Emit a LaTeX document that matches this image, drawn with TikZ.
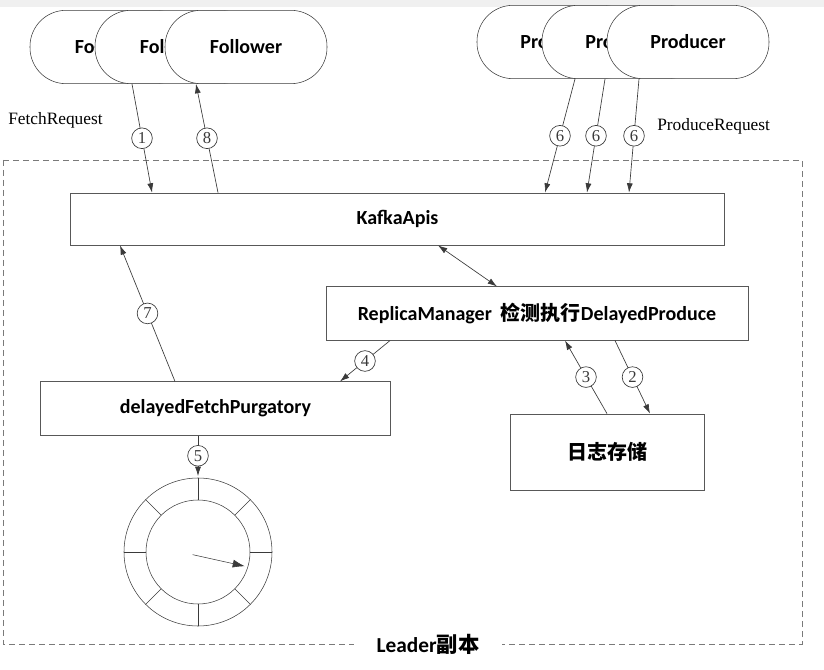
\documentclass[tikz,border=0pt]{standalone}
\usepackage{fontspec}
\setmainfont{Carlito}
\newfontfamily\cjk{Noto Sans CJK SC}
\newfontfamily\simfont{Liberation Serif}
\usetikzlibrary{arrows.meta}
\definecolor{lineg}{HTML}{3A3A3A}
\definecolor{dashg}{HTML}{7A7A7A}

\begin{document}
\begin{tikzpicture}[x=0.75pt,y=-0.75pt,font=\fontsize{15}{18}\selectfont\bfseries,
 actor/.style={draw=lineg,fill=white,rounded corners=27pt,minimum width=121.5pt,minimum height=55pt},
 box/.style={draw=lineg!85,fill=white,line width=0.6pt},
 num/.style={circle,draw=lineg,fill=white,inner sep=0pt,minimum size=15.5pt,font=\simfont\fontsize{12.5}{12.5}\selectfont},
 req/.style={font=\simfont\fontsize{13}{15}\selectfont,anchor=west,inner sep=0pt},
 arr/.style={-{Latex[length=7pt,width=4.5pt]},lineg,line width=0.5pt},
 darr/.style={{Latex[length=7pt,width=4.5pt]}-{Latex[length=7pt,width=4.5pt]},lineg,line width=0.5pt}]
\useasboundingbox (0,0) rectangle (824,670);
\fill[gray!12] (0,0) rectangle (824,7);
% leader frame
\draw[dashg,line width=0.6pt,dash pattern=on 4.5pt off 3pt] (3,160) rectangle (802,644);
\node[fill=white,inner xsep=17pt,inner ysep=2pt,font=\fontsize{16}{18}\selectfont\bfseries] (leader) at (428,644) {Leader{\cjk 副本}};
% clients
\node[actor] (f1) at (111,47) {Follower};
\node[actor] (f2) at (176,47) {Follower};
\node[actor] (f3) at (246,47) {Follower};
\node[actor] (p1) at (558,42) {Producer};
\node[actor] (p2) at (623,42) {Producer};
\node[actor] (p3) at (688,42) {Producer};
\node[req] (fetch) at (8,120) {FetchRequest};
\node[req] (prodreq) at (657,126) {ProduceRequest};
% boxes
\node[box,minimum width=491pt,minimum height=39pt] (api) at (397.5,219) {KafkaApis};
\node[box,minimum width=316.5pt,minimum height=40pt] (rm) at (537,313.5) {ReplicaManager\ \ {\cjk 检测执行}DelayedProduce};
\node[box,minimum width=263pt,minimum height=40pt] (pur) at (215.5,408.5) {delayedFetchPurgatory};
\node[box,minimum width=146pt,minimum height=57pt] (log) at (607.5,452) {\cjk 日志存储};
% timing wheel
\coordinate (wc) at (198,552);
\coordinate (wtop) at (198,476);
\draw[lineg] (wc) circle[radius=55.5pt] (wc) circle[radius=39pt];
\foreach \a in {0,45,...,315}
 \draw[lineg] (wc) ++(\a:39pt) -- ++(\a:16.5pt);
\draw[lineg,-{Latex[length=9pt,width=6pt]}] (wc) ++(-4pt,-2pt) -- ++(-12.5:40pt);
% requests
\draw[arr] (132,0 |- f2.south) -- node[num]{1} (152,0 |- api.north);
\draw[arr] (218,0 |- api.north) -- node[num]{8} (196,0 |- f3.south);
\draw[arr] (575,0 |- p1.south) -- node[num]{6} (545,0 |- api.north);
\draw[arr] (605,0 |- p2.south) -- node[num]{6} (587,0 |- api.north);
\draw[arr] (639,0 |- p3.south) -- node[num]{6} (629,0 |- api.north);
\draw[darr] (438,0 |- api.south) -- (497,0 |- rm.north);
\draw[arr] (175,0 |- pur.north) -- node[num]{7} (120,0 |- api.south);
\draw[arr] (390,0 |- rm.south) -- node[num]{4} (340,0 |- pur.north);
\draw[arr] (607,0 |- log.north) -- node[num]{3} (565,0 |- rm.south);
\draw[arr] (615,0 |- rm.south) -- node[num]{2} (650,0 |- log.north);
\draw[arr] (198,0 |- pur.south) -- node[num]{5} (wtop);
\end{tikzpicture}
\end{document}
